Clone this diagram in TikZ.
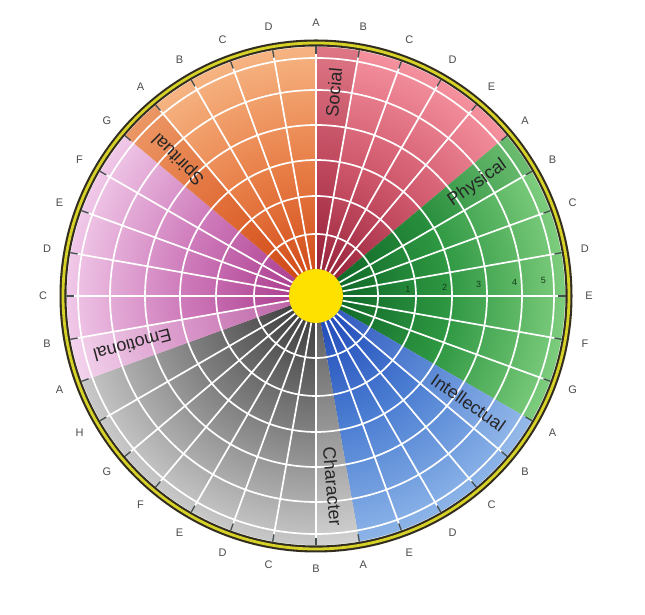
\documentclass[tikz,border=0pt]{standalone}
\usepackage{fontspec}
\setmainfont{Liberation Sans}
\definecolor{socI}{RGB}{140,25,50}
\definecolor{socM}{RGB}{205,85,105}
\definecolor{socO}{RGB}{245,145,158}
\definecolor{phyI}{RGB}{10,95,35}
\definecolor{phyM}{RGB}{45,150,65}
\definecolor{phyO}{RGB}{125,205,125}
\definecolor{intI}{RGB}{25,65,180}
\definecolor{intM}{RGB}{75,125,210}
\definecolor{intO}{RGB}{140,180,232}
\definecolor{chaI}{RGB}{50,50,50}
\definecolor{chaM}{RGB}{125,125,125}
\definecolor{chaO}{RGB}{200,200,200}
\definecolor{emoI}{RGB}{165,50,135}
\definecolor{emoM}{RGB}{205,120,185}
\definecolor{emoO}{RGB}{240,200,232}
\definecolor{spiI}{RGB}{205,65,15}
\definecolor{spiM}{RGB}{232,125,70}
\definecolor{spiO}{RGB}{246,180,130}
\definecolor{ringdark}{RGB}{50,45,30}
\definecolor{ringyel}{RGB}{215,210,40}
\definecolor{sun}{RGB}{255,225,0}
\definecolor{tickc}{RGB}{70,80,80}
\definecolor{lblc}{RGB}{75,75,75}
\definecolor{numc}{RGB}{20,60,25}
\pgfdeclareradialshading{shsoc}{\pgfpoint{0bp}{0bp}}{color(0bp)=(socI); color(13bp)=(socM); color(25bp)=(socO); color(50bp)=(socO)}
\pgfdeclareradialshading{shphy}{\pgfpoint{0bp}{0bp}}{color(0bp)=(phyI); color(13bp)=(phyM); color(25bp)=(phyO); color(50bp)=(phyO)}
\pgfdeclareradialshading{shint}{\pgfpoint{0bp}{0bp}}{color(0bp)=(intI); color(13bp)=(intM); color(25bp)=(intO); color(50bp)=(intO)}
\pgfdeclareradialshading{shcha}{\pgfpoint{0bp}{0bp}}{color(0bp)=(chaI); color(13bp)=(chaM); color(25bp)=(chaO); color(50bp)=(chaO)}
\pgfdeclareradialshading{shemo}{\pgfpoint{0bp}{0bp}}{color(0bp)=(emoI); color(13bp)=(emoM); color(25bp)=(emoO); color(50bp)=(emoO)}
\pgfdeclareradialshading{shspi}{\pgfpoint{0bp}{0bp}}{color(0bp)=(spiI); color(13bp)=(spiM); color(25bp)=(spiO); color(50bp)=(spiO)}
\tikzset{
  gridline/.style={white, line width=1.7pt},
  tickmark/.style={tickc, line width=1.3pt},
  rimlabel/.style={text=lblc, font=\fontsize{11}{13}\selectfont, inner sep=0pt},
  secname/.style={text=black!85, font=\fontsize{18}{20}\selectfont, inner sep=0pt},
  ringnum/.style={text=numc, font=\fontsize{9}{10}\selectfont, inner sep=0pt}
}
\begin{document}
\begin{tikzpicture}[x=1pt,y=1pt]
\useasboundingbox (0,0) rectangle (645,615);
\fill[white] (0,0) rectangle (645,615);
\coordinate (O) at (316,319);
\begin{scope}[shift={(O)}]
  % sectors
  \foreach \a/\b/\sh/\tc/\op in {90/40/shsoc/socI/0.22, 40/-30/shphy/phyI/0.15, -30/-80/shint/white/0.08, -80/-160/shcha/white/0.18, 200/140/shemo/white/0.20, 140/90/shspi/spiI/0.25}{
    \begin{scope}
      \clip (0,0) -- (\a:249pt) arc[start angle=\a, end angle=\b, radius=249pt] -- cycle;
      \shade[shading=\sh] (0,0) circle (249pt);
      \pgfmathsetmacro{\bb}{\a-10}
      \fill[\tc, opacity=\op] (0,0) -- (\a:249pt) arc[start angle=\a, end angle=\bb, radius=249pt] -- cycle;
    \end{scope}
  }
  % grid circles
  \foreach \r in {62,100,136,171,206,238}{
    \draw[gridline] (0,0) circle (\r pt);
  }
  % radial lines
  \foreach \t in {90,80,70,60,50,30,20,10,0,-10,-20,-40,-50,-60,-70,-90,-100,-110,-120,-130,-140,-150,-170,180,170,160,150,130,120,110,100}{
    \draw[gridline] (\t:27pt) -- (\t:243pt);
  }
  % ticks
  \foreach \t in {0,10,...,350}{
    \draw[tickmark] (\t:242pt) -- (\t:249.5pt);
  }
  % rim
  \draw[ringdark, line width=7pt] (0,0) circle (253pt);
  \draw[ringyel, line width=2.8pt] (0,0) circle (253pt);
  % centre
  \fill[sun] (0,0) circle (27pt);
  % rim labels
  \foreach \t/\l in {90/A,80/B,70/C,60/D,50/E,
                     40/A,30/B,20/C,10/D,0/E,-10/F,-20/G,
                     -30/A,-40/B,-50/C,-60/D,-70/E,
                     -80/A,-90/B,-100/C,-110/D,-120/E,-130/F,-140/G,-150/H,
                     -160/A,-170/B,180/C,170/D,160/E,150/F,140/G,
                     130/A,120/B,110/C,100/D}{
    \node[rimlabel] (lbl\t) at (\t:273pt) {\l};
  }
  % sector names
  \node[secname, rotate=85] (social) at (85:204pt) {Social};
  \node[secname, rotate=35] (physical) at (35:197pt) {Physical};
  \node[secname, rotate=-35] (intellectual) at (-35:186pt) {Intellectual};
  \node[secname, rotate=-85] (character) at (-85:191pt) {Character};
  \node[secname, rotate=195] (emotional) at (195:190pt) {Emotional};
  \node[secname, rotate=135] (spiritual) at (135:194pt) {Spiritual};
  % ring numbers
  \foreach \n/\r in {1/92,2/129,3/163,4/199,5/228}{
    \node[ringnum] (num\n) at (4:\r pt) {\n};
  }
\end{scope}
\end{tikzpicture}
\end{document}
